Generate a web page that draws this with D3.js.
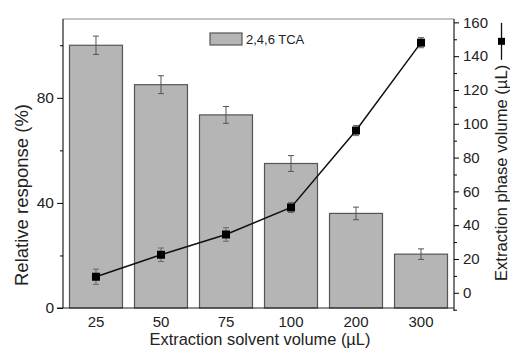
<!DOCTYPE html>
<html>
<head>
<meta charset="utf-8">
<script src="https://cdn.jsdelivr.net/npm/d3@7"></script>
<style>
  body { margin: 0; background: #fff; }
  text { font-family: "Liberation Sans", Arial, sans-serif; fill: #222; }
</style>
</head>
<body>
<svg></svg>
<script>
let width = 510;
let height = 349;

// data
const volumes = ["25", "50", "75", "100", "200", "300"];
const response = [100, 85, 73.5, 55, 36, 20.5];       // relative response (%)
const responseErr = [3.5, 3.4, 3.2, 3, 2.4, 2];
const phaseVolume = [9.5, 22.5, 34.5, 50.5, 96, 148];  // extraction phase volume (uL)
const phaseErr = [4.5, 4, 4, 3, 3, 3];

const leftMajor = [0, 40, 80];
const leftMinor = [20, 60, 100];
const rightMajor = [0, 20, 40, 60, 80, 100, 120, 140, 160];
const rightMinor = [-10, 10, 30, 50, 70, 90, 110, 130, 150];

const mLeft = 63, mRight = 454, mTop = 19, mBottom = 308;

const x = d3.scaleBand()
  .domain(volumes)
  .range([mLeft, mRight])
  .paddingInner(0.185)
  .paddingOuter(0.1);

const y = d3.scaleLinear().domain([0, 110]).range([mBottom, mTop]);
const y2 = d3.scaleLinear().domain([-9, 162]).range([mBottom, mTop]);

const svg = d3.select("svg")
  .attr("width", width)
  .attr("height", height);

// top frame line
svg.append("line")
  .attr("x1", mLeft).attr("x2", mRight)
  .attr("y1", mTop).attr("y2", mTop)
  .attr("stroke", "#888").attr("stroke-width", 1.2);

// bars
svg.append("g")
  .selectAll("rect")
  .data(volumes)
  .join("rect")
  .attr("x", d => x(d))
  .attr("width", x.bandwidth())
  .attr("y", (d, i) => y(response[i]))
  .attr("height", (d, i) => mBottom - y(response[i]))
  .attr("fill", "#b5b5b5")
  .attr("stroke", "#555")
  .attr("stroke-width", 1.2);

// bar error bars
const be = svg.append("g").attr("stroke", "#555").attr("stroke-width", 1);
volumes.forEach((d, i) => {
  const cx = x(d) + x.bandwidth() / 2;
  be.append("line").attr("x1", cx).attr("x2", cx)
    .attr("y1", y(response[i] + responseErr[i])).attr("y2", y(response[i] - responseErr[i]));
  [response[i] + responseErr[i], response[i] - responseErr[i]].forEach(v => {
    be.append("line").attr("x1", cx - 3).attr("x2", cx + 3)
      .attr("y1", y(v)).attr("y2", y(v));
  });
});

// line series
const line = d3.line()
  .x((d, i) => x(volumes[i]) + x.bandwidth() / 2)
  .y(d => y2(d));

svg.append("path")
  .datum(phaseVolume)
  .attr("d", line)
  .attr("fill", "none")
  .attr("stroke", "#111")
  .attr("stroke-width", 1.5);

const le = svg.append("g").attr("stroke", "#666").attr("stroke-width", 1);
volumes.forEach((d, i) => {
  const cx = x(d) + x.bandwidth() / 2;
  const hi = phaseVolume[i] + phaseErr[i], lo = phaseVolume[i] - phaseErr[i];
  le.append("line").attr("x1", cx).attr("x2", cx).attr("y1", y2(hi)).attr("y2", y2(lo));
  [hi, lo].forEach(v => {
    le.append("line").attr("x1", cx - 3).attr("x2", cx + 3).attr("y1", y2(v)).attr("y2", y2(v));
  });
});

svg.append("g")
  .selectAll("rect")
  .data(phaseVolume)
  .join("rect")
  .attr("x", (d, i) => x(volumes[i]) + x.bandwidth() / 2 - 4)
  .attr("y", d => y2(d) - 4)
  .attr("width", 8)
  .attr("height", 8)
  .attr("fill", "#000");

// left axis
const gl = svg.append("g").attr("transform", `translate(${mLeft},0)`);
gl.call(d3.axisLeft(y).tickValues(leftMajor).tickSize(6).tickPadding(3))
  .call(g => g.select(".domain").attr("stroke", "#222").attr("stroke-width", 1.2))
  .call(g => g.selectAll("text").style("font-size", "15.5px").attr("fill", "#222"));
gl.append("g").call(d3.axisLeft(y).tickValues(leftMinor).tickSize(3).tickFormat(""))
  .call(g => g.select(".domain").remove());
gl.selectAll(".domain").attr("d", `M0,${mTop}V${mBottom}`);

// right axis
const gr = svg.append("g").attr("transform", `translate(${mRight},0)`);
gr.call(d3.axisRight(y2).tickValues(rightMajor).tickSize(5).tickPadding(4))
  .call(g => g.select(".domain").attr("stroke", "#222").attr("stroke-width", 1.2))
  .call(g => g.selectAll("text").style("font-size", "15px").attr("fill", "#222"));
gr.append("g").call(d3.axisRight(y2).tickValues(rightMinor).tickSize(3).tickFormat(""))
  .call(g => g.select(".domain").remove());
gr.select(".domain").attr("d", `M0,${mTop}V${mBottom + 3}`);

// bottom axis
const gb = svg.append("g").attr("transform", `translate(0,${mBottom})`);
gb.call(d3.axisBottom(x).tickSize(0).tickPadding(8))
  .call(g => g.select(".domain").attr("stroke", "#222").attr("stroke-width", 1.2).attr("d", `M${mLeft - 6},0H${mRight}`))
  .call(g => g.selectAll("text").style("font-size", "15px").attr("fill", "#222"));

// axis titles
svg.append("text")
  .attr("transform", `translate(28,195) rotate(-90)`)
  .attr("text-anchor", "middle")
  .style("font-size", "18.5px")
  .text("Relative response (%)");

svg.append("text")
  .attr("x", 260)
  .attr("y", 345)
  .attr("text-anchor", "middle")
  .style("font-size", "16.4px")
  .text("Extraction solvent volume (\u00b5L)");

// right title, with the line-symbol drawn after it
const rTitle = svg.append("text")
  .attr("transform", `translate(507,281) rotate(-90)`)
  .attr("text-anchor", "start")
  .style("font-size", "16.6px")
  .text("Extraction phase volume (\u00b5L)");
const tLen = rTitle.node().getComputedTextLength();
const symBottom = 281 - tLen - 5;
svg.append("line")
  .attr("x1", 501.5).attr("x2", 501.5)
  .attr("y1", symBottom).attr("y2", symBottom - 37)
  .attr("stroke", "#111").attr("stroke-width", 1.3);
svg.append("rect")
  .attr("x", 498).attr("y", symBottom - 22)
  .attr("width", 7).attr("height", 7)
  .attr("fill", "#000");

// legend
svg.append("rect")
  .attr("x", 210).attr("y", 33)
  .attr("width", 32).attr("height", 12)
  .attr("fill", "#b5b5b5").attr("stroke", "#555").attr("stroke-width", 1.2);
svg.append("text")
  .attr("x", 246).attr("y", 44)
  .style("font-size", "13px")
  .text("2,4,6 TCA");
</script>
</body>
</html>
